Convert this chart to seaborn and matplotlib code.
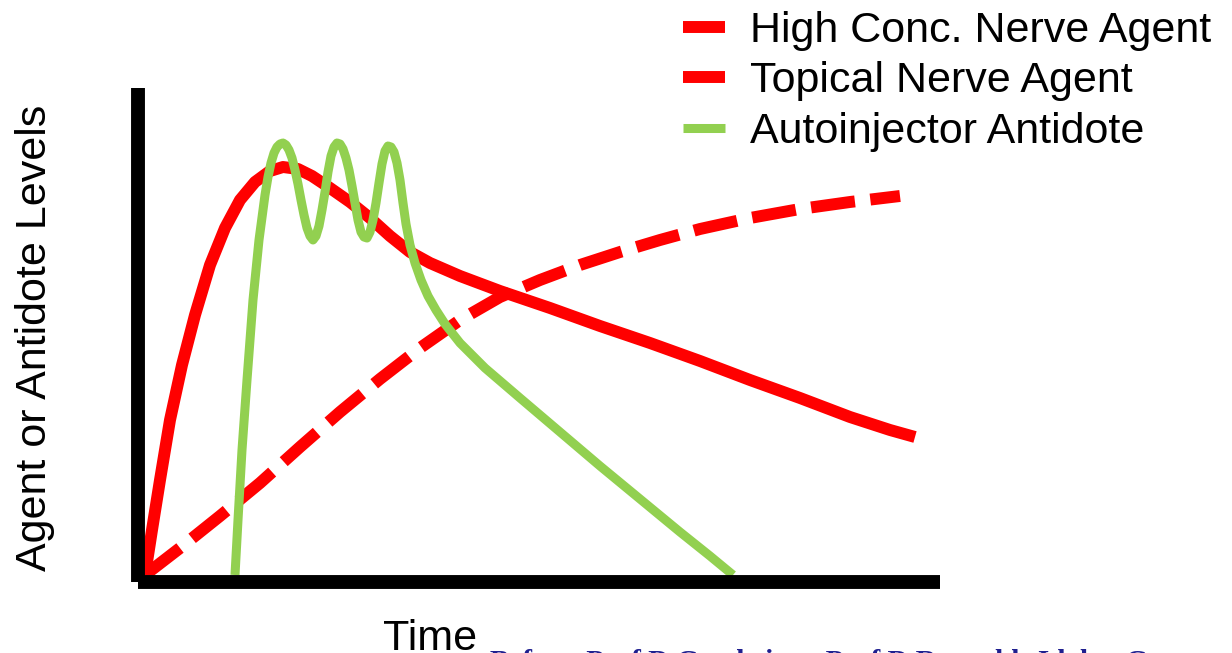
import matplotlib
matplotlib.use("Agg")
import matplotlib.pyplot as plt
import seaborn as sns
import pandas as pd

# ---- data (time and level in arbitrary units) ----
high_x = [0, 7, 15, 25, 37, 50, 65, 80, 95, 110, 125, 138, 153, 167, 185, 205, 225, 245, 265, 285, 315, 355, 405, 455, 505, 555, 605, 655, 705, 745, 770]
high_y = [0, 45, 95, 155, 210, 260, 310, 347, 375, 393, 404, 408, 406, 399, 387, 373, 357, 339, 323, 312, 299, 284, 267, 249, 232, 214, 195, 177, 158, 145, 138]

topical_x = [0, 35, 75, 115, 155, 195, 235, 275, 315, 355, 395, 435, 475, 515, 555, 605, 655, 705, 755]
topical_y = [0, 27, 59, 92, 128, 163, 196, 227, 255, 278, 295, 310, 323, 335, 346, 357, 366, 373, 379]

anti_x = [90, 93, 97, 102, 108, 114, 120, 123, 126, 129, 132, 135, 138, 141, 144, 147, 150, 153, 156, 159, 162, 165, 168,
          171, 174, 177, 180, 183, 186, 189, 192, 195, 198, 201, 204, 207, 210, 213, 216, 219, 222,
          225, 228, 231, 234, 237, 240, 243, 246, 249, 252, 255, 258, 261, 265, 270, 276, 283, 291, 300,
          315, 340, 375, 415, 455, 495, 535, 565, 588]
anti_y = [0, 55, 125, 195, 275, 335, 380, 398, 412, 422, 428, 431, 432, 430, 425, 417, 405, 391, 375, 360, 347, 339, 335,
          339, 349, 365, 383, 403, 419, 428, 432, 431, 426, 417, 405, 389, 372, 355, 343, 338, 337,
          343, 355, 372, 392, 411, 424, 429, 428, 423, 412, 395, 372, 351, 330, 312, 295, 279, 265, 251,
          232, 207, 177, 143, 109, 76, 43, 19, 0]

labels = ["High Conc. Nerve Agent", "Topical Nerve Agent", "Autoinjector Antidote"]
y_label = "Agent or Antidote Levels"
x_label = "Time"
footer = "Before  Prof D Goodwin     Prof D Reynolds Idaho  Gonzaga"

RED = "#ff0000"
GREEN = "#92d050"

sns.set_theme(style="white")
plt.rcParams["font.family"] = ["Liberation Sans", "DejaVu Sans"]
plt.rcParams["text.color"] = "black"

fig = plt.figure(figsize=(12.32, 6.53), dpi=100)
ax = fig.add_axes([138 / 1232, 1 - 582 / 653, (940 - 138) / 1232, (582 - 88) / 653])

df_high = pd.DataFrame({"t": high_x, "v": high_y})
df_top = pd.DataFrame({"t": topical_x, "v": topical_y})
df_anti = pd.DataFrame({"t": anti_x, "v": anti_y})

sns.lineplot(data=df_high, x="t", y="v", ax=ax, sort=False, color=RED, lw=8.6,
             solid_capstyle="butt", solid_joinstyle="round", legend=False)
sns.lineplot(data=df_top, x="t", y="v", ax=ax, sort=False, color=RED, lw=8.6, legend=False)
sns.lineplot(data=df_anti, x="t", y="v", ax=ax, sort=False, color=GREEN, lw=6.5,
             solid_capstyle="butt", solid_joinstyle="round", legend=False)

l_high, l_top, l_anti = ax.lines[:3]
l_top.set_dashes([3.7, 1.3])
l_top.set_dash_capstyle("butt")

ax.set_xlim(-7, 795)
ax.set_ylim(-7, 487)
ax.set_xticks([])
ax.set_yticks([])
ax.set_xlabel("")
ax.set_ylabel("")
for s in ["top", "right"]:
    ax.spines[s].set_visible(False)
for s in ["left", "bottom"]:
    ax.spines[s].set_color("black")
    ax.spines[s].set_linewidth(10)
    ax.spines[s].set_capstyle("butt")
ax.set_facecolor("none")

leg = fig.legend([l_high, l_top, l_anti], labels, loc="upper left",
                 bbox_to_anchor=(683 / 1232, 1 - 11 / 653),
                 frameon=False, fontsize=31, handlelength=0.97, handletextpad=0.58,
                 labelspacing=0.24, borderpad=0, borderaxespad=0)
for t in leg.get_texts():
    t.set_color("black")

fig.text(35 / 1232, 1 - 338 / 653, y_label, rotation=90, ha="center", va="center",
         fontsize=31, color="black")
fig.text(430 / 1232, 1 - 650 / 653, x_label, ha="center", va="baseline",
         fontsize=31, color="black")
fig.text(490 / 1232, 1 - 670 / 653, footer, ha="left", va="baseline",
         fontsize=21, fontweight="bold", color="#1f1f8f",
         family=["Liberation Serif", "DejaVu Serif"])

fig.savefig("out.png", dpi=100)
